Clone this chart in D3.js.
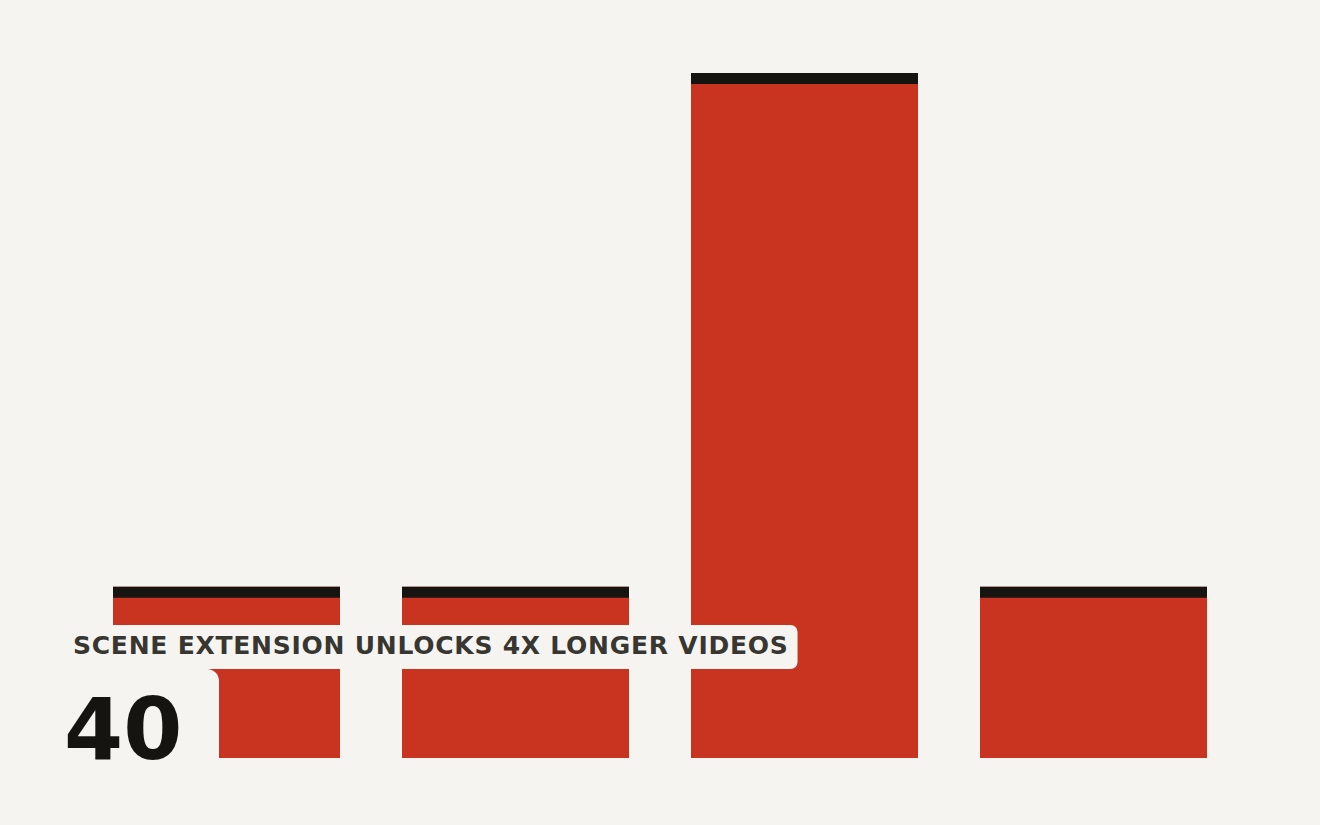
<!DOCTYPE html>
<html>
<head>
<meta charset="utf-8">
<script src="https://cdn.jsdelivr.net/npm/d3@7"></script>
<style>
  html, body { margin: 0; padding: 0; background: #f5f4f0; }
  svg { display: block; }
</style>
</head>
<body>
<script>
const categories = ["Clip 1", "Clip 2", "Scene extension", "Clip 4"];
const values = [10, 10, 40, 10];
const headline = "SCENE EXTENSION UNLOCKS 4X LONGER VIDEOS";
const bigNumber = "40";

const w = 1320;
const h = 825;
const bg = "#f5f4f0";
const red = "#c93420";
const ink = "#161411";
const capH = 11;

const xScale = d3.scaleBand()
    .domain(categories)
    .range([51, 1269])
    .padding(62 / 289);

const yScale = d3.scaleLinear()
    .domain([0, d3.max(values)])
    .range([758, 73]);

const svg = d3.select("body")
    .append("svg")
    .attr("width", w)
    .attr("height", h);

svg.append("rect")
    .attr("width", w)
    .attr("height", h)
    .attr("fill", bg);

const data = categories.map((c, i) => ({ cat: c, value: values[i] }));

// bars
svg.selectAll("rect.bar")
    .data(data)
    .enter()
    .append("rect")
    .attr("class", "bar")
    .attr("x", d => xScale(d.cat))
    .attr("y", d => yScale(d.value))
    .attr("width", xScale.bandwidth())
    .attr("height", d => yScale(0) - yScale(d.value))
    .attr("fill", red);

// dark cap on top of each bar
svg.selectAll("rect.cap")
    .data(data)
    .enter()
    .append("rect")
    .attr("class", "cap")
    .attr("x", d => xScale(d.cat))
    .attr("y", d => yScale(d.value))
    .attr("width", xScale.bandwidth())
    .attr("height", capH)
    .attr("fill", ink);

// cut-out behind the big number
svg.append("rect")
    .attr("x", 30)
    .attr("y", 669)
    .attr("width", 189)
    .attr("height", 200)
    .attr("rx", 12)
    .attr("fill", bg);

// headline pill
const label = svg.append("g");
const labelBox = label.append("rect")
    .attr("fill", bg)
    .attr("rx", 7);
const labelText = label.append("text")
    .attr("x", 73)
    .attr("y", 654)
    .attr("font-family", "DejaVu Sans, sans-serif")
    .attr("font-weight", "bold")
    .attr("font-size", 25)
    .attr("letter-spacing", 0.75)
    .attr("fill", "#383631")
    .text(headline);
const tw = labelText.node().getComputedTextLength();
labelBox
    .attr("x", 63)
    .attr("y", 625)
    .attr("width", tw + 19)
    .attr("height", 44);

svg.append("text")
    .attr("x", 64)
    .attr("y", 759)
    .attr("font-family", "DejaVu Sans, sans-serif")
    .attr("font-weight", "bold")
    .attr("font-size", 85)
    .attr("fill", ink)
    .text(bigNumber);
</script>
</body>
</html>
